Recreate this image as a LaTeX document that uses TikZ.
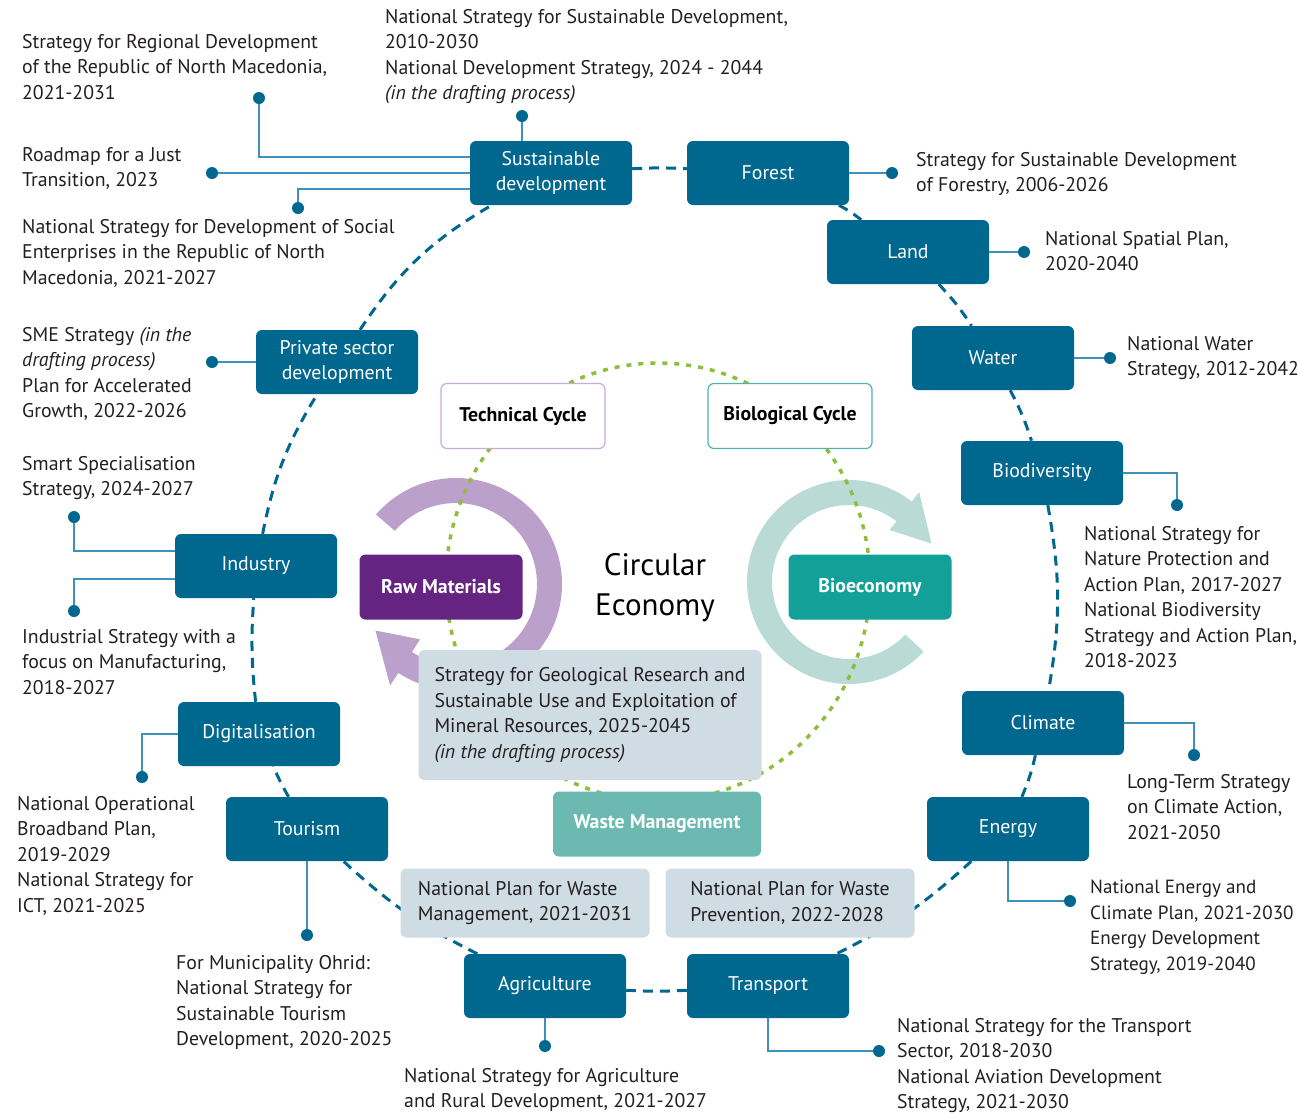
\documentclass[tikz,border=0pt]{standalone}
\usepackage{fontspec}
\setmainfont{PT Sans}
\usetikzlibrary{calc}
\definecolor{secblue}{RGB}{0,104,143}
\definecolor{leadblue}{RGB}{62,145,185}
\definecolor{platebg}{RGB}{208,220,228}
\definecolor{rawpurple}{RGB}{102,36,130}
\definecolor{lilac}{RGB}{187,160,203}
\definecolor{bioteal}{RGB}{18,160,152}
\definecolor{paleteal}{RGB}{185,218,213}
\definecolor{wasteteal}{RGB}{108,185,177}
\definecolor{dotgreen}{RGB}{141,190,60}
\definecolor{techrim}{RGB}{200,170,215}
\definecolor{biorim}{RGB}{80,180,172}
\definecolor{inkgrey}{RGB}{35,31,32}
\newcommand{\notefont}{\fontsize{19.8}{25.5}\selectfont}

\begin{document}
\begin{tikzpicture}[x=1pt, y=-1pt,
    sector/.style={fill=secblue, text=white, rounded corners=6pt, minimum width=162pt, minimum height=64pt, inner sep=2pt, align=center, font=\notefont},
    note/.style={anchor=north west, inner sep=0pt, align=left, text=inkgrey, font=\notefont},
    plate/.style={fill=platebg, rounded corners=6pt, align=left, text=inkgrey, font=\notefont},
    cyclebox/.style={fill=white, draw, line width=1.2pt, rounded corners=6pt, minimum width=164pt, minimum height=65pt, font=\notefont\bfseries, text=black},
    hub/.style={rounded corners=6pt, minimum width=163pt, minimum height=65pt, text=white, font=\notefont\bfseries},
    dotpin/.style={circle, fill=secblue, inner sep=0pt, minimum size=12pt},
    lead/.style={leadblue, line width=1.8pt},
    ringline/.style={secblue, line width=3pt, dash pattern=on 10pt off 7pt},
  ]
      \useasboundingbox (0,0) rectangle (1298,1112);

      % loops
      \fill[lilac] (456,584) ++(-139:106) arc[start angle=-139, end angle=123, radius=106]
        -- ($(456,584)+(123:121)$) -- ($(456,584)+(150:93)$) -- ($(456,584)+(123:66)$)
        -- ($(456,584)+(123:81)$) arc[start angle=123, end angle=-139, radius=81] -- cycle;
      \fill[paleteal] (849,582) ++(43:102) arc[start angle=43, end angle=308, radius=102]
        -- ($(849,582)+(308:114)$) -- ($(849,582)+(335:91)$) -- ($(849,582)+(308:66)$)
        -- ($(849,582)+(308:77)$) arc[start angle=308, end angle=43, radius=77] -- cycle;
      \draw[dotgreen, line width=3.5pt, dash pattern=on 5pt off 7pt] (658,582) ellipse [x radius=212, y radius=219];

      % centre
      \node[cyclebox, draw=techrim] (tech) at (523,416) {Technical Cycle};
      \node[cyclebox, draw=biorim] (bio cycle) at (790,416) {Biological Cycle};
      \node[hub, fill=rawpurple] (raw) at (441,587) {Raw Materials};
      \node[hub, fill=bioteal] (bioeco) at (870,587) {Bioeconomy};
      \node[font=\fontsize{31}{40}\selectfont, align=center, text=black] (ce) at (655,588) {Circular\\Economy};
      \node[plate, minimum width=343pt, minimum height=130pt] (geo) at (590,715) {Strategy for Geological Research and\\Sustainable Use and Exploitation of\\Mineral Resources, 2025-2045\\\textit{(in the drafting process)}};
      \node[hub, fill=wasteteal, minimum width=208pt] (waste) at (657,824) {Waste Management};

      % sectors
      \node[sector] (sd) at (551,173) {Sustainable\\development};
      \node[sector] (forest) at (768,173) {Forest};
      \node[sector] (land) at (908,252) {Land};
      \node[sector] (water) at (993,358) {Water};
      \node[sector] (biodiv) at (1042,473) {Biodiversity};
      \node[sector] (climate) at (1043,723) {Climate};
      \node[sector] (energy) at (1008,829) {Energy};
      \node[sector] (transport) at (768,986) {Transport};
      \node[sector] (agri) at (545,986) {Agriculture};
      \node[sector] (tourism) at (307,829) {Tourism};
      \node[sector] (digital) at (259,734) {Digitalisation};
      \node[sector] (industry) at (256,566) {Industry};
      \node[sector] (private) at (337,362) {Private sector\\development};

      \path [ringline]
      (sd) edge [bend left=3] (forest)
      (forest) edge [bend left=5] (land)
      (land) edge [bend left=5] (water)
      (water) edge [bend left=5] (biodiv)
      (biodiv) edge [bend left=10] (climate)
      (climate) edge [bend left=5] (energy)
      (energy) edge [bend left=8] (transport)
      (transport) edge [bend left=3] (agri)
      (agri) edge [bend left=8] (tourism)
      (tourism) edge [bend left=3] (digital)
      (digital) edge [bend left=5] (industry)
      (industry) edge [bend left=10] (private)
      (private) edge [bend left=13] (sd);

      \node[plate, minimum width=249pt, minimum height=69pt] (wplan) at (525,903) {National Plan for Waste\\Management, 2021-2031};
      \node[plate, minimum width=249pt, minimum height=69pt] (wprev) at (790,903) {National Plan for Waste\\Prevention, 2022-2028};

      % strategies
      \node[note] (n1) at (22,34) {Strategy for Regional Development\\of the Republic of North Macedonia,\\2021-2031};
      \node[note] (n2) at (385,9) {National Strategy for Sustainable Development,\\2010-2030\\National Development Strategy, 2024 - 2044\\\textit{(in the drafting process)}};
      \node[note] (n3) at (22,147) {Roadmap for a Just\\Transition, 2023};
      \node[note] (n4) at (22,219) {National Strategy for Development of Social\\Enterprises in the Republic of North\\Macedonia, 2021-2027};
      \node[note] (n5) at (916,152) {Strategy for Sustainable Development\\of Forestry, 2006-2026};
      \node[note] (n6) at (1045,231) {National Spatial Plan,\\2020-2040};
      \node[note] (n7) at (1127,336) {National Water\\Strategy, 2012-2042};
      \node[note] (n8) at (1084,526) {National Strategy for\\Nature Protection and\\Action Plan, 2017-2027\\National Biodiversity\\Strategy and Action Plan,\\2018-2023};
      \node[note] (n9) at (1127,774) {Long-Term Strategy\\on Climate Action,\\2021-2050};
      \node[note, font=\fontsize{19.1}{25.5}\selectfont] (n10) at (1090,880) {National Energy and\\Climate Plan, 2021-2030\\Energy Development\\Strategy, 2019-2040};
      \node[note] (n11) at (897,1018) {National Strategy for the Transport\\Sector, 2018-2030\\National Aviation Development\\Strategy, 2021-2030};
      \node[note] (n12) at (404,1068) {National Strategy for Agriculture\\and Rural Development, 2021-2027};
      \node[note] (n13) at (176,955) {For Municipality Ohrid:\\National Strategy for\\Sustainable Tourism\\Development, 2020-2025};
      \node[note] (n14) at (17,796) {National Operational\\Broadband Plan,\\2019-2029\\National Strategy for\\ICT, 2021-2025};
      \node[note] (n15) at (22,456) {Smart Specialisation\\Strategy, 2024-2027};
      \node[note] (n16) at (22,629) {Industrial Strategy with a\\focus on Manufacturing,\\2018-2027};
      \node[note] (n17) at (22,327) {SME Strategy \textit{(in the}\\\textit{drafting process)}\\Plan for Accelerated\\Growth, 2022-2026};

      % dots and leads
      \node[dotpin] (d1) at (259,98) {};
      \node[dotpin] (d2) at (522,116) {};
      \node[dotpin] (d3) at (212,173) {};
      \node[dotpin] (d4) at (298,208) {};
      \node[dotpin] (d5) at (892,173) {};
      \node[dotpin] (d6) at (1024,252) {};
      \node[dotpin] (d7) at (1110,358) {};
      \node[dotpin] (d8) at (1177,505) {};
      \node[dotpin] (d9) at (1194,755) {};
      \node[dotpin] (d10) at (1070,901) {};
      \node[dotpin] (d11) at (879,1051) {};
      \node[dotpin] (d12) at (545,1046) {};
      \node[dotpin] (d13) at (307,935) {};
      \node[dotpin] (d14) at (142,777) {};
      \node[dotpin] (d15) at (74,517) {};
      \node[dotpin] (d16) at (74,611) {};
      \node[dotpin] (d17) at (212,362) {};

      \draw[lead] (d1) |- ($(sd.west)+(0,-16)$);
      \draw[lead] (d2) -- (d2 |- sd.north);
      \draw[lead] (d3) -- (sd.west);
      \draw[lead] (d4) |- ($(sd.west)+(0,16)$);
      \draw[lead] (forest) -- (d5);
      \draw[lead] (land) -- (d6);
      \draw[lead] (water) -- (d7);
      \draw[lead] (biodiv.east) -| (d8);
      \draw[lead] (climate.east) -| (d9);
      \draw[lead] (energy.south) |- (d10);
      \draw[lead] (transport.south) |- (d11);
      \draw[lead] (agri) -- (d12);
      \draw[lead] (tourism) -- (d13);
      \draw[lead] (digital.west) -| (d14);
      \draw[lead] ($(industry.west)+(0,-15)$) -| (d15);
      \draw[lead] ($(industry.west)+(0,13)$) -| (d16);
      \draw[lead] (private) -- (d17);
\end{tikzpicture}
\end{document}
